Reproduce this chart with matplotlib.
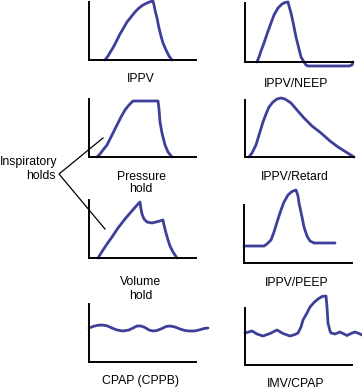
import matplotlib
matplotlib.use("Agg")
import matplotlib.pyplot as plt

# Pressure waveforms (time, pressure in pixel units
# measured from each panel's origin)
ippv_t = [16, 19, 22, 25, 28, 31, 34, 38, 42, 46, 50, 54, 58, 62, 64,
          65, 66, 68, 70, 72, 74, 77, 80, 83]
ippv_p = [0, 4, 9, 14, 20, 26, 31, 38, 43, 48, 52, 55, 57, 58.5, 59,
          55, 50, 42, 32, 24, 17, 10, 4, 0]

neep_t = [12, 14, 16, 19, 22, 26, 29, 33, 37, 40, 43, 44, 46, 48, 51, 54,
          56, 59, 61, 63, 104, 107, 108]
neep_p = [0, 5, 11, 19, 28, 39, 47, 54, 58, 59.5, 60, 56, 49, 40, 25, 13,
          5, 0, -3, -4, -4, -3, 0]

phold_t = [8, 11, 14, 18, 23, 28, 32, 36, 40, 44, 69, 70, 71, 73, 76, 79, 83]
phold_p = [0, 3, 7, 12, 22, 32, 40, 47, 52, 56, 56, 48, 35, 24, 12, 5, 0]

retard_t = [4, 7, 11, 14, 18, 21, 24, 28, 32, 36, 40, 46, 52, 59, 67, 76,
            85, 93, 101, 109]
retard_p = [0, 4, 12, 22, 35, 43, 50, 55, 58, 59, 58, 54, 47, 39, 31, 24,
            16, 10, 5, 0]

vhold_t = [9, 14, 18, 23, 29, 36, 42, 49, 51, 52, 53, 55, 58, 63, 69, 74,
           75, 77, 79, 81, 84, 88]
vhold_p = [0, 8, 14, 21, 30, 39, 46, 54, 56, 49, 44, 39, 36, 35, 36.5, 38,
           33, 25, 18, 12, 6, 0]

peep_t = [0, 20, 23, 27, 30, 34, 37, 40, 44, 48, 52, 54, 55, 58, 60, 63,
          66, 70, 91]
peep_p = [17, 17, 19, 23, 31, 44, 53, 61, 68, 71.5, 73, 67, 60, 46, 36, 27,
          22, 20, 20]

cpap_t = [0, 4, 8, 13, 18, 23, 28, 34, 40, 44, 48, 52, 56, 60, 64, 68, 73,
          77, 81, 86, 91, 96, 100, 105, 110, 115, 119]
cpap_p = [34, 35.5, 36.6, 37, 36.2, 34, 32, 31, 32, 34, 36, 36, 34.5, 32,
          31, 31.5, 33.5, 35.5, 36, 35, 33, 31.5, 31, 31, 32, 33.5, 34]

imv_t = [0, 7, 12, 18, 25, 32, 38, 45, 50, 53, 56, 58, 62, 65, 69, 73, 77,
         81, 82, 83, 85, 86, 90, 95, 99, 102, 106, 110, 114, 117]
imv_p = [32, 34, 31, 29, 31.5, 35, 31.5, 29, 30.5, 32, 38, 45, 52, 58,
         62.5, 66, 68.5, 69, 58, 42, 34, 32, 31, 33, 31, 29.5, 31.5, 33,
         31.5, 30]

labels = ["IPPV", "IPPV/NEEP", "Pressure\nhold", "IPPV/Retard",
          "Volume\nhold", "IPPV/PEEP", "CPAP (CPPB)", "IMV/CPAP"]
curves = [(ippv_t, ippv_p), (neep_t, neep_p), (phold_t, phold_p),
          (retard_t, retard_p), (vhold_t, vhold_p), (peep_t, peep_p),
          (cpap_t, cpap_p), (imv_t, imv_p)]

# panel layout in pixels: origin x, origin y, x-axis end, y-axis top
W, H = 362, 390
frames = [(89, 60, 196, 2), (245, 62, 353, 3),
          (89, 157, 196, 99), (245, 157, 354, 100),
          (89, 258, 196, 200), (244, 263, 352, 205),
          (89, 362, 196, 304), (245, 365, 352, 308)]
# label centre x and baseline y of each line
label_pos = [(141, [82]), (296, [87]),
             (141, [180, 192]), (295, [180]),
             (141, [285, 299]), (297, [286]),
             (141, [384]), (296, [387])]

curve_col = "#3d3f99"
font = ["Liberation Sans", "DejaVu Sans"]
fs = 8.8

fig = plt.figure(figsize=(W / 100, H / 100), dpi=100)

# overlay for texts and the bracket
over = fig.add_axes([0, 0, 1, 1])
over.set_xlim(0, W)
over.set_ylim(H, 0)
over.axis("off")

for (t, p), (x0, y0, xe, yt) in zip(curves, frames):
    ax = fig.add_axes([x0 / W, 1 - y0 / H, (xe - x0) / W, (y0 - yt) / H])
    ax.set_xlim(0, xe - x0)
    ax.set_ylim(0, y0 - yt)
    for s in ["top", "right"]:
        ax.spines[s].set_visible(False)
    for s in ["left", "bottom"]:
        ax.spines[s].set_linewidth(1.4)
        ax.spines[s].set_color("black")
    ax.set_xticks([])
    ax.set_yticks([])
    ax.patch.set_alpha(0)
    ax.plot(t, p, color=curve_col, lw=2.0, clip_on=False,
            solid_joinstyle="round", solid_capstyle="round")

for lab, (cx, bases) in zip(labels, label_pos):
    for line, by in zip(lab.split("\n"), bases):
        over.text(cx, by, line, ha="center", va="baseline", fontsize=fs,
                  family=font, color="black")

over.text(0, 165, "Inspiratory", ha="left", va="baseline", fontsize=fs,
          family=font)
over.text(56, 179, "holds", ha="right", va="baseline", fontsize=fs,
          family=font)
over.plot([103, 59, 105], [138, 174, 229], color="black", lw=0.9)

fig.savefig("out.png", dpi=100)
